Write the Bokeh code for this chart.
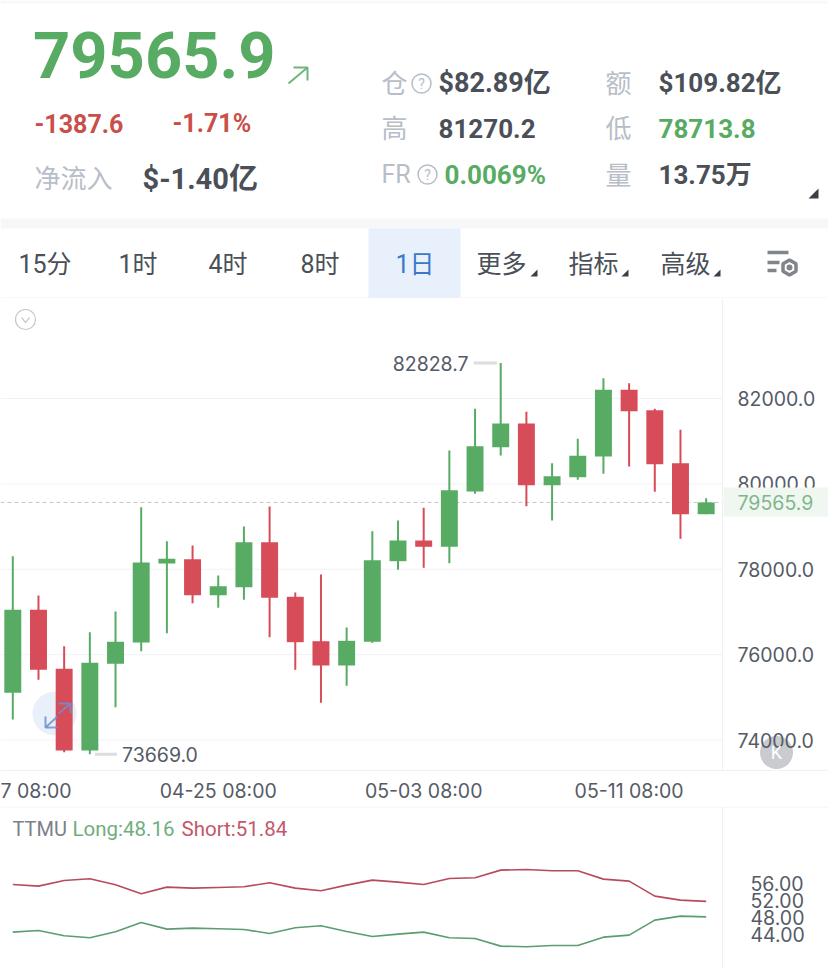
from bokeh.plotting import figure
from bokeh.layouts import column
from bokeh.models import (Label, LinearAxis, FixedTicker, BoxAnnotation, Range1d)
from bokeh.embed import file_html
from bokeh.resources import INLINE

# ---------- data ----------
dates = ["7 08:00", "04-25 08:00", "05-03 08:00", "05-11 08:00"]
date_idx = [0, 8, 16, 24]
up = [1,0,0,1,1,1,1,0,1,1,0,0,0,1,1,1,0,1,1,1,0,1,1,1,0,0,0,1]
high = [78307,77386,76199,76527,77012,79454,78658,78557,77855,79002,79471,77457,77878,76637,
        78892,79143,79440,80782,81759,82828.7,81689,80485,81056,82475,82358,81759,81270.2,79665]
low = [74482,75412,73716,73669,74770,76082,76503,77206,77098,77286,76410,75646,74873,75272,
       76278,77988,78035,78143,79768,80665,79478,79143,80096,80236,80407,79815,78713.8,79290]
body_top = [77051,77051,75670,75810,76302,78159,78246,78236,77604,78635,78635,77356,76316,76325,
            78213,78674,78674,79852,80883,81414,81414,80180,80658,82204,82204,81726,80485,79565.9]
body_bot = [75108,75646,73756,73756,75787,76286,78136,77393,77393,77581,77332,76293,75747,75747,
            76302,78190,78527,78527,79822,80859,79970,79970,80157,80642,81703,80461,79290,79290]
y_ticks = [74000, 76000, 78000, 80000, 82000]
last_price = 79565.9
short_vals = [55.84,55.45,56.79,57.18,55.76,53.63,55.21,54.97,55.13,55.29,56.24,54.97,54.34,55.68,
              56.87,56.39,55.84,57.26,57.42,59.24,59.40,59.08,59.08,57.11,56.63,53.08,52.13,51.84]
long_vals = [44.55,44.94,43.68,43.20,44.63,46.84,45.26,45.49,45.34,45.18,44.23,45.57,46.05,44.70,
             43.52,44.07,44.55,43.20,43.05,41.23,41.07,41.39,41.39,43.36,43.84,47.39,48.34,48.16]
sub_ticks = [44, 48, 52, 56]

GREEN = "#57ab62"; RED = "#d64c58"; LINE = "#eff1f3"; TXT = "#4a4f58"; GRAY = "#b7bec7"
NUM = "Roboto, 'Noto Sans CJK SC'"
AXF = "Inter"; AXC = "#555b66"

# ---------- header ----------
hd = figure(width=828, height=298, x_range=(0, 828), y_range=(298, 0), x_axis_type=None, y_axis_type=None,
            toolbar_location=None, output_backend="svg", min_border=0, outline_line_color=None)
hd.grid.visible = False

def t(p, x, y, s, size, color, bold=False, font=NUM, align="left"):
    p.add_layout(Label(x=x, y=y, text=s, text_font=font, text_font_size=f"{size}px", text_color=color,
                       text_font_style="bold" if bold else "normal", text_baseline="middle", text_align=align))

hd.quad(left=[0], right=[828], top=[0], bottom=[3], fill_color="#f8f8f9", line_color=None)
hd.quad(left=[0], right=[828], top=[218], bottom=[228], fill_color="#f6f7f8", line_color=None)
hd.quad(left=[368], right=[460], top=[228], bottom=[298], fill_color="#e8f1fb", line_color=None)
hd.segment([0], [297.5], [828], [297.5], line_color=LINE, line_width=1)

t(hd, 32.5, 54, "79565.9", 65, GREEN, True)
hd.multi_line([[288, 307], [293, 307, 307]], [[83, 67], [67, 67, 80]], line_color="#6db57a", line_width=2)
t(hd, 34, 123, "-1387.6", 25, "#c9504a", True)
t(hd, 172, 123, "-1.71%", 25, "#c9504a", True)
t(hd, 34, 178, "净流入", 26, GRAY)
t(hd, 142, 178, "$-1.40亿", 29, TXT, True)

t(hd, 381, 83, "仓", 26, GRAY)
t(hd, 438, 82, "$82.89亿", 27, TXT, True)
t(hd, 605, 83, "额", 26, GRAY)
t(hd, 658, 82, "$109.82亿", 26, TXT, True)
t(hd, 381, 128, "高", 26, GRAY)
t(hd, 438, 128, "81270.2", 26, TXT, True)
t(hd, 605, 128, "低", 26, GRAY)
t(hd, 658, 128, "78713.8", 26, GREEN, True)
t(hd, 381, 174, "FR", 25, GRAY)
t(hd, 444, 174, "0.0069%", 26, GREEN, True)
t(hd, 605, 175, "量", 26, GRAY)
t(hd, 658, 174, "13.75万", 26, TXT, True)
hd.scatter([421, 427], [83, 174], size=19, marker="circle", fill_color=None, line_color=GRAY, line_width=1.5)
t(hd, 421, 83, "?", 14, GRAY, align="center")
t(hd, 427, 174, "?", 14, GRAY, align="center")
hd.patch([808, 818, 818], [198, 198, 188], fill_color="#3a3f47", line_color=None)

for x, s in [(18, "15分"), (118, "1时"), (208, "4时"), (300, "8时"), (476, "更多"), (568, "指标"), (660, "高级")]:
    t(hd, x, 264, s, 25, TXT)
t(hd, 395, 264, "1日", 25, "#3c78c8")
hd.patches([[530, 537, 537], [621, 628, 628], [713, 720, 720]], [[276, 276, 269]] * 3, fill_color="#3a3f47", line_color=None)
hd.segment([767, 767, 767], [252, 262, 270], [788, 779, 776], [252, 262, 270], line_color="#80848b", line_width=3.5)
hd.scatter([789], [267], size=15, marker="hex", angle=1.5708, fill_color="white", line_color="#80848b", line_width=3.5)
hd.scatter([789], [267], size=6, marker="circle", fill_color="#80848b", line_color=None)

# ---------- candles ----------
X0 = 12.3; DX = 25.68
def ix(px): return (px - X0) / DX
def iv(py): return 82000 - (py - 398) * 23.42

def side_axis(ticks, fmt, standoff):
    a = LinearAxis(ticker=FixedTicker(ticks=ticks), fixed_location=ix(722))
    a.major_label_overrides = {v: fmt.format(v) for v in ticks}
    a.major_label_text_font = AXF; a.major_label_text_font_size = "19.5px"; a.major_label_text_color = AXC
    a.axis_line_color = LINE; a.major_tick_line_color = None; a.minor_tick_line_color = None
    a.major_tick_out = 0; a.major_tick_in = 0
    a.major_label_standoff = standoff
    return a

idx = list(range(len(up)))
mc = figure(width=828, height=508, x_range=Range1d(ix(0), ix(828)), y_range=Range1d(iv(770), iv(298)),
            toolbar_location=None, output_backend="svg", min_border=0, min_border_bottom=36,
            outline_line_color=None, y_axis_location=None)
mc.grid.visible = False
ax = mc.xaxis[0]
ax.ticker = FixedTicker(ticks=date_idx)
ax.major_label_overrides = dict(zip(date_idx, dates))
ax.major_label_text_font = AXF; ax.major_label_text_font_size = "19.5px"; ax.major_label_text_color = AXC
ax.axis_line_color = LINE; ax.major_tick_line_color = None; ax.minor_tick_line_color = None
ax.major_tick_out = 0; ax.major_tick_in = 0
ax.major_label_standoff = 8
mc.add_layout(side_axis(y_ticks, "{:.1f}", 15), "right")

mc.segment([ix(0)] * 5, y_ticks, [ix(722)] * 5, y_ticks, line_color="#f1f2f4", line_width=1)
mc.scatter([ix(54)], [iv(713)], size=44, marker="circle", fill_color="#e9f0f9", line_color=None)
col = [GREEN if u else RED for u in up]
mc.segment([ix(0)], [last_price], [ix(722)], [last_price], line_color="#c4c6c9", line_dash="4 3", line_width=1)
mc.segment(idx, high, idx, low, line_color=col, line_width=2)
mc.vbar(idx, 0.66, body_bot, body_top, fill_color=col, line_color=None)
mc.multi_line([[ix(58), ix(70), ix(70)], [ix(58), ix(70)],
               [ix(45), ix(45), ix(57)], [ix(45), ix(57)]],
              [[iv(703), iv(703), iv(713)], [iv(713), iv(703)],
               [iv(716), iv(727), iv(727)], [iv(727), iv(716)]],
              line_color="#6f8fd0", line_alpha=0.85, line_width=2)

imax = high.index(max(high)); imin = low.index(min(low))
mc.segment([imax - 1.05], [high[imax]], [imax - 0.15], [high[imax]], line_color="#dcdddf", line_width=3)
mc.segment([imin + 0.2], [low[imin]], [imin + 1.05], [low[imin]], line_color="#dcdddf", line_width=3)
t(mc, imax - 1.25, high[imax], f"{high[imax]:.1f}", 19.5, AXC, font=AXF, align="right")
t(mc, imin + 1.25, low[imin], f"{low[imin]:.1f}", 19.5, AXC, font=AXF)

mc.scatter([ix(25)], [iv(319)], size=20, marker="circle", fill_color=None, line_color="#c4c8cd", line_width=1.2)
mc.line([ix(21), ix(25), ix(29)], [iv(317), iv(322), iv(317)], line_color="#b8bcc2", line_width=1.2)

# K button beneath the axis labels, latest-price tag over them
mc.scatter([ix(776)], [iv(752)], size=33, marker="circle", fill_color="#c9cbce", line_color=None)
t(mc, ix(776), iv(752), "K", 18, "white", align="center")
mc.add_layout(BoxAnnotation(left=ix(723), right=ix(828), top=iv(487), bottom=iv(516),
                            fill_color="#eff7f0", fill_alpha=1, line_color=None))
t(mc, ix(737), last_price, f"{last_price:.1f}", 19.5, "#7fb78c", font=AXF)

# ---------- TTMU ----------
def sv(py): return 56 - (py - 883.3) / 4.22
sb = figure(width=828, height=162, x_range=Range1d(ix(0), ix(828)), y_range=Range1d(sv(968), sv(806)),
            toolbar_location=None, output_backend="svg", min_border=0,
            outline_line_color=None, x_axis_type=None, y_axis_location=None)
sb.grid.visible = False
sb.add_layout(side_axis(sub_ticks, "{:.2f}", 28), "right")
sb.line(idx, short_vals, line_color="#b84a5e", line_width=1.6)
sb.line(idx, long_vals, line_color="#5a9e6f", line_width=1.6)
sb.add_layout(BoxAnnotation(left=ix(0), right=ix(828), top=sv(806), bottom=sv(807),
                            fill_color=LINE, fill_alpha=1, line_color=None))
t(sb, ix(12), sv(828), "TTMU", 20, "#7b8089")
t(sb, ix(72), sv(828), f"Long:{long_vals[-1]:.2f}", 20.5, "#6fae7e")
t(sb, ix(181), sv(828), f"Short:{short_vals[-1]:.2f}", 20.5, "#c2586a")

page = column(hd, mc, sb, spacing=0)
open("out.html", "w").write(file_html(page, INLINE))
